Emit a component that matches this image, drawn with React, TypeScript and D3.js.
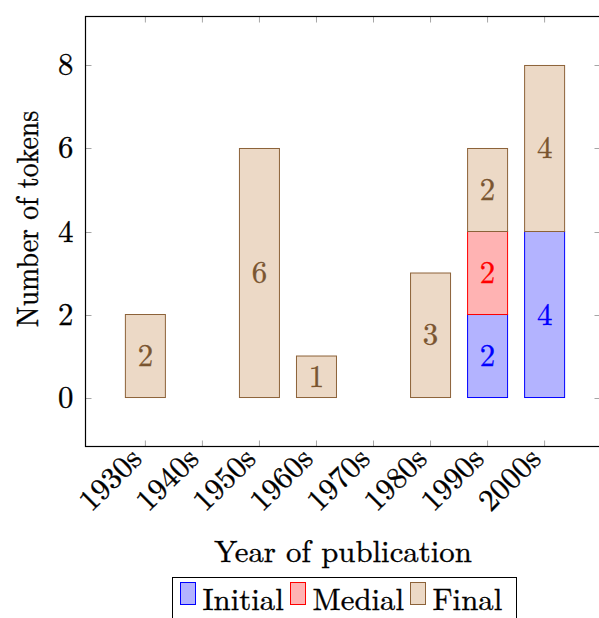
import React from "react";
import * as d3 from "d3";

const categories = ["1930s", "1940s", "1950s", "1960s", "1970s", "1980s", "1990s", "2000s"];
const initialValues = [0, 0, 0, 0, 0, 0, 2, 4];
const medialValues = [0, 0, 0, 0, 0, 0, 2, 0];
const finalValues = [2, 0, 6, 1, 0, 3, 2, 4];
const yTicks = [0, 2, 4, 6, 8];
const seriesNames = ["Initial", "Medial", "Final"];

const W = 599;
const H = 618;
const fontStyle = { fontFamily: '"Latin Modern Roman", "Liberation Serif", serif' };

const styles = [
  { fill: "#b3b3ff", stroke: "#0000ff", text: "#0000ff" },
  { fill: "#ffb3b3", stroke: "#ff0000", text: "#ff0000" },
  { fill: "#ecd9c6", stroke: "#8c6239", text: "#7a5530" },
];

export default function App() {
  const left = 85.5, right = 600.5, top = 16.5, bottom = 446.5;
  const x = d3.scaleLinear().domain([-1.05, 7.98]).range([left, right]);
  const y = d3.scaleLinear().domain([-1.18, 9.18]).range([bottom, top]);
  const barW = 40;
  const fs = 30.8;
  const sw = 0.35;

  const table = categories.map((c, i) => ({
    cat: c,
    i,
    Initial: initialValues[i],
    Medial: medialValues[i],
    Final: finalValues[i],
  }));
  const stacked = d3.stack<any>().keys(seriesNames)(table);

  const tickColor = "#a6a6a6";
  const tl = 6;

  return (
    <svg width={W} height={H} style={{ position: "absolute", left: 0, top: 0 }}>
      {categories.map((c, i) => (
        <g key={"xt" + i}>
          <line x1={x(i)} x2={x(i)} y1={bottom} y2={bottom - tl} stroke={tickColor} strokeWidth={1} />
          <line x1={x(i)} x2={x(i)} y1={top} y2={top + tl} stroke={tickColor} strokeWidth={1} />
          <text
            transform={`translate(${x(i) - 2},${bottom + 14}) rotate(-45)`}
            textAnchor="end"
            fontSize={fs}
            style={fontStyle}
            fill="#000"
            stroke="#000"
            strokeWidth={sw}
          >
            {c}
          </text>
        </g>
      ))}
      {yTicks.map((t) => (
        <g key={"yt" + t}>
          <line x1={left} x2={left + tl} y1={Math.round(y(t)) + 0.5} y2={Math.round(y(t)) + 0.5} stroke={tickColor} strokeWidth={1} />
          <line x1={right - tl} x2={right} y1={Math.round(y(t)) + 0.5} y2={Math.round(y(t)) + 0.5} stroke={tickColor} strokeWidth={1} />
          <text x={left - 12} y={y(t) + 10} textAnchor="end" fontSize={fs} style={fontStyle} fill="#000" stroke="#000" strokeWidth={sw}>
            {t}
          </text>
        </g>
      ))}

      {stacked.map((s, si) => (
        <g key={s.key}>
          {s.map((d, i) =>
            d[1] - d[0] > 0 ? (
              <g key={i}>
                <rect
                  x={x(i) - barW / 2}
                  y={y(d[1])}
                  width={barW}
                  height={y(d[0]) - y(d[1])}
                  fill={styles[si].fill}
                  stroke={styles[si].stroke}
                  strokeWidth={1}
                />
                <text
                  x={x(i)}
                  y={(y(d[0]) + y(d[1])) / 2 + 10}
                  textAnchor="middle"
                  fontSize={fs}
                  style={fontStyle}
                  fill={styles[si].text}
                  stroke={styles[si].text}
                  strokeWidth={sw}
                >
                  {d[1] - d[0]}
                </text>
              </g>
            ) : null
          )}
        </g>
      ))}

      <rect x={left} y={top} width={right - left} height={bottom - top} fill="none" stroke="#000" strokeWidth={1.2} />

      <text x={(left + right) / 2} y={562} textAnchor="middle" fontSize={fs} style={fontStyle} fill="#000" stroke="#000" strokeWidth={sw}>
        Year of publication
      </text>
      <text
        transform={`translate(38,219) rotate(-90) scale(1,1.12)`}
        textAnchor="middle"
        fontSize={27.8}
        style={fontStyle}
        fill="#000"
        stroke="#000"
        strokeWidth={sw}
      >
        Number of tokens
      </text>

      <rect x={172.5} y={577.5} width={344} height={50} fill="#fff" stroke="#000" strokeWidth={1} />
      {seriesNames.map((n, k) => {
        const xs = [180.5, 290.5, 410.5][k];
        return (
          <g key={n}>
            <rect x={xs} y={582.5} width={15} height={22} fill={styles[k].fill} stroke={styles[k].stroke} strokeWidth={1} />
            <text x={xs + 22} y={610} fontSize={fs} style={fontStyle} fill="#000" stroke="#000" strokeWidth={sw}>
              {n}
            </text>
          </g>
        );
      })}
    </svg>
  );
}
